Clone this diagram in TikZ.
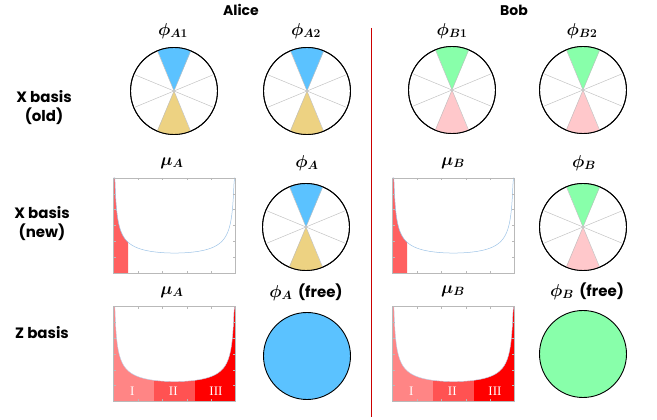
\documentclass[tikz,border=0pt]{standalone}
\usepackage{amsmath}
\usepackage{bm}
\usepackage[no-math]{fontspec}
\setsansfont{Poppins}
\newfontfamily\zonefont{Liberation Serif}
\usepackage{tikz}
\usetikzlibrary{positioning}
\definecolor{skyfill}{HTML}{5BC2FF}
\definecolor{sandfill}{HTML}{EDD282}
\definecolor{mintfill}{HTML}{88FFAA}
\definecolor{rosefill}{HTML}{FFC8CB}
\definecolor{curveblue}{HTML}{9DC3E6}
\definecolor{stripred}{HTML}{FF6060}
\definecolor{lowred}{HTML}{FF8585}
\definecolor{midred}{HTML}{FF5252}
\definecolor{topred}{HTML}{FF0000}

\begin{document}
\begin{tikzpicture}[x=1pt, y=1pt, every node/.style={inner sep=0pt, outer sep=0pt},
  declare function={prob(\t)=min(1,0.105/sqrt(\t*(1-\t)));},
  head/.style={font=\sffamily\bfseries\fontsize{14}{16}\selectfont},
  rowlab/.style={font=\sffamily\bfseries\fontsize{15}{19}\selectfont, align=center},
  plotlab/.style={font=\fontsize{18}{20}\selectfont},
  zonelab/.style={font=\zonefont\fontsize{13}{15}\selectfont, text=white},
  disk/.style={circle, draw=black, line width=0.9pt, fill=white, minimum size=87pt},
  plotbox/.style={minimum width=122pt, minimum height=95pt},
  frame/.style={draw=gray!55, line width=0.6pt},
  ray/.style={gray!50, line width=0.45pt},
  tick/.style={gray!55, line width=0.4pt},
  divider/.style={draw=red!80!black, line width=1.6pt}]
\useasboundingbox (0,0) rectangle (657,420);
% headings and divider
\node[head] (alice) at (241,410) {Alice};
\node[head] (bob) at (514,410) {Bob};
\coordinate (divtop) at (371.5,392);
\coordinate (divbot) at (371.5,3);
\path[divider] (divtop) -- (divbot);
% row labels
\node[rowlab] (xold) at (44,312) {X basis\\(old)};
\node[rowlab] (xnew) at (42,196) {X basis\\(new)};
\node[rowlab] (zbas) at (42,87) {Z basis};
% phase disks
\node[disk] (dA1) at (174,329) {};
\node[disk] (dA2) at (307,329) {};
\node[disk] (dB1) at (452,330) {};
\node[disk] (dB2) at (583,330) {};
\node[disk] (dA) at (306,193) {};
\node[disk] (dB) at (583,193) {};
\foreach \d/\up/\down in {dA1/skyfill/sandfill, dA2/skyfill/sandfill, dB1/mintfill/rosefill,
    dB2/mintfill/rosefill, dA/skyfill/sandfill, dB/mintfill/rosefill} {
  \fill[\up] (\d.center) -- (\d.67.5) arc[start angle=67.5, end angle=112.5, radius=43.5pt] -- cycle;
  \fill[\down] (\d.center) -- (\d.247.5) arc[start angle=247.5, end angle=292.5, radius=43.5pt] -- cycle;
  \foreach \a in {22.5,67.5,112.5,157.5}
    \draw[ray] ([shift={(\a:43.5pt)}]\d.center) -- ([shift={(\a+180:43.5pt)}]\d.center);
  \draw[line width=0.9pt] (\d.center) circle[radius=43.5pt];
}
\node[disk, fill=skyfill] (dAf) at (307,64) {};
\node[disk, fill=mintfill] (dBf) at (583,66) {};
% intensity plots
\node[plotbox] (pA2) at (174.5,194.5) {};
\node[plotbox] (pB2) at (453.5,194.5) {};
\node[plotbox] (pA3) at (174.5,66) {};
\node[plotbox] (pB3) at (453.5,66) {};
\foreach \p in {pA2,pB2} {
  \begin{scope}[shift={(\p.south west)}, x=122pt, y=95pt]
    \fill[stripred] (0,0) -- plot[domain=0.001:0.12, samples=60] (\x,{prob(\x)}) -- (0.12,0) -- cycle;
    \draw[curveblue, line width=0.5pt] plot[domain=0.001:0.999, samples=200] (\x,{prob(\x)});
  \end{scope}
}
\foreach \p in {pA3,pB3} {
  \begin{scope}[shift={(\p.south west)}, x=122pt, y=95pt]
    \begin{scope}
      \clip (0,0) -- (0,1) -- plot[domain=0.001:0.999, samples=200] (\x,{prob(\x)}) -- (1,1) -- (1,0) -- cycle;
      \fill[lowred] (0,0) rectangle (1/3,1);
      \fill[midred] (1/3,0) rectangle (2/3,1);
      \fill[topred] (2/3,0) rectangle (1,1);
    \end{scope}
    \draw[curveblue!70, line width=0.4pt] plot[domain=0.001:0.999, samples=200] (\x,{prob(\x)});
    \node[zonelab] (\p-one) at (0.155,0.11) {I};
    \node[zonelab] (\p-two) at (0.49,0.11) {II};
    \node[zonelab] (\p-three) at (0.84,0.11) {III};
  \end{scope}
}
\foreach \p in {pA2,pB2,pA3,pB3} {
  \draw[frame] (\p.south west) rectangle (\p.north east);
  \begin{scope}[shift={(\p.south west)}, x=122pt, y=95pt]
    \foreach \i in {0.2,0.4,0.6,0.8}
      \draw[tick] (\i,0) -- ++(0,0.025) (\i,1) -- ++(0,-0.025);
    \foreach \j in {1,...,5}
      \draw[tick] (0,\j/6) -- ++(0.02,0) (1,\j/6) -- ++(-0.02,0);
  \end{scope}
}
% labels over the panels
\node[plotlab] (tA1) at (173,389) {$\bm{\phi_{A1}}$};
\node[plotlab] (tA2) at (306,389) {$\bm{\phi_{A2}}$};
\node[plotlab] (tB1) at (452,389) {$\bm{\phi_{B1}}$};
\node[plotlab] (tB2) at (582,389) {$\bm{\phi_{B2}}$};
\node[plotlab] (tmuA) at (172,257) {$\bm{\mu_{A}}$};
\node[plotlab] (tphA) at (307,257) {$\bm{\phi_{A}}$};
\node[plotlab] (tmuB) at (453,257) {$\bm{\mu_{B}}$};
\node[plotlab] (tphB) at (584,257) {$\bm{\phi_{B}}$};
\node[plotlab] (tmuAz) at (172,128) {$\bm{\mu_{A}}$};
\node[plotlab] (tphAf) at (306,128) {$\bm{\phi_{A}}$ {\sffamily\bfseries\fontsize{15}{17}\selectfont(free)}};
\node[plotlab] (tmuBz) at (453,129) {$\bm{\mu_{B}}$};
\node[plotlab] (tphBf) at (587,129) {$\bm{\phi_{B}}$ {\sffamily\bfseries\fontsize{15}{17}\selectfont(free)}};
\end{tikzpicture}
\end{document}
